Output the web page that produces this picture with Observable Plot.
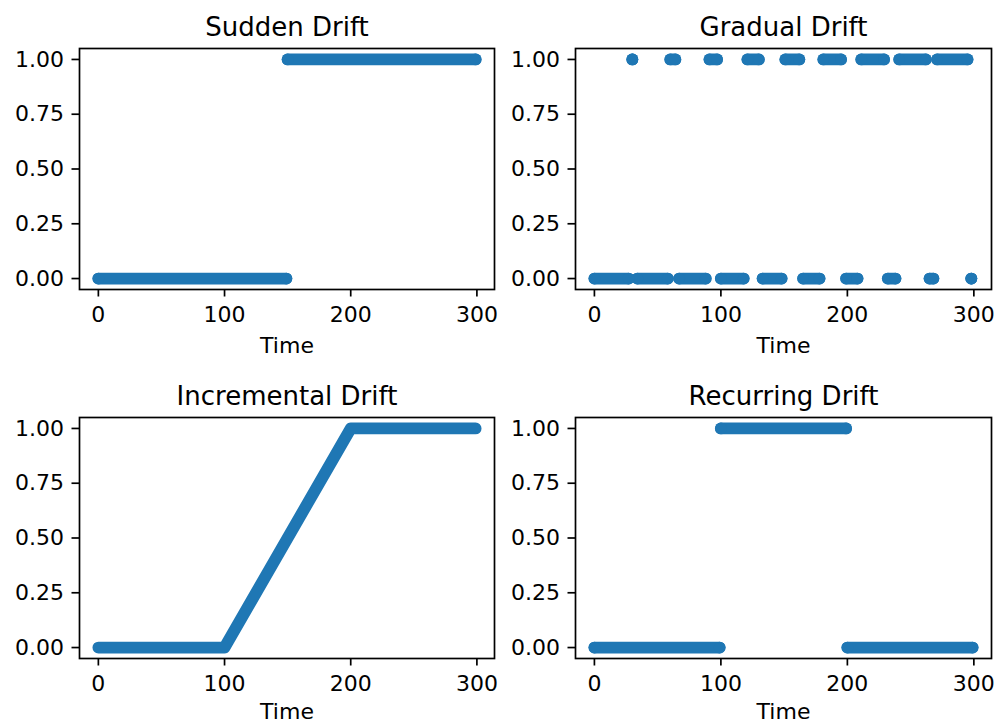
<!DOCTYPE html>
<html>
<head>
<meta charset="utf-8">
<script src="https://cdn.jsdelivr.net/npm/d3@7"></script>
<script src="https://cdn.jsdelivr.net/npm/@observablehq/plot@0.6"></script>
<style>
  html, body { margin: 0; padding: 0; background: #fff; }
  #fig { position: relative; width: 1008px; height: 723px; background: #fff; overflow: hidden; }
  #fig > div { position: absolute; }
</style>
</head>
<body>
<div id="fig"></div>
<script>
// ---- data ----
const timeTicks = [0, 100, 200, 300];
const valueTicks = [0, 0.25, 0.5, 0.75, 1];
const titles = ["Sudden Drift", "Gradual Drift", "Incremental Drift", "Recurring Drift"];
const xLabel = "Time";

// runs of consecutive time points sharing one value: start, end, value
const suddenStart = [0, 150];
const suddenEnd   = [149, 299];
const suddenValue = [0, 1];

const gradualStart = [0, 30, 34, 60, 67, 91, 100, 121, 133, 151, 165, 181, 199, 211, 232, 241, 265, 271, 298];
const gradualEnd   = [27, 30, 58, 64, 88, 97, 118, 130, 148, 162, 178, 195, 208, 229, 238, 262, 268, 295, 298];
const gradualValue = [0, 1, 0, 1, 0, 1, 0, 1, 0, 1, 0, 1, 0, 1, 0, 1, 0, 1, 0];

// incremental drift breakpoints (time, value)
const incTime  = [0, 100, 200, 299];
const incValue = [0, 0, 1, 1];

const recurStart = [0, 100, 200];
const recurEnd   = [99, 199, 299];
const recurValue = [0, 1, 0];

const color = "#1f77b4";
const R = 5.9;

function runs(starts, ends, values) {
  return starts.map((s, i) => ({x1: s, x2: ends[i], y: values[i]}));
}

function panel(title, marks, box) {
  return Plot.plot({
    width: box.w, height: box.h,
    marginLeft: box.ml, marginRight: box.mr, marginTop: box.mt, marginBottom: box.mb,
    x: {domain: [-14.95, 313.95]},
    y: {domain: [-0.05, 1.05]},
    style: {fontFamily: "'DejaVu Sans', sans-serif", color: "black", background: "white", overflow: "visible"},
    marks: [
      ...marks,
      Plot.axisX({ticks: timeTicks, tickSize: 7.5, tickPadding: 9.5, fontSize: 22, strokeWidth: 1.7, label: null}),
      Plot.axisY({ticks: valueTicks, tickFormat: d3.format(".2f"), tickSize: 7.5, tickPadding: 8, fontSize: 22, strokeWidth: 1.7, label: null}),
      Plot.frame({stroke: "black", strokeWidth: 1.7}),
      Plot.text([title], {text: d => d, frameAnchor: "top", dy: -13, lineAnchor: "bottom", fontSize: 26, fill: "black"}),
      Plot.text([xLabel], {text: d => d, frameAnchor: "bottom", dy: box.ly, lineAnchor: "bottom", fontSize: 22, fill: "black"})
    ]
  });
}

function runMarks(data) {
  return [
    Plot.link(data, {x1: "x1", x2: "x2", y1: "y", y2: "y", stroke: color, strokeWidth: 2 * R, strokeLinecap: "round"}),
    Plot.dot(data, {x: "x1", y: "y", r: R, fill: color}),
    Plot.dot(data, {x: "x2", y: "y", r: R, fill: color})
  ];
}

const incData = incTime.map((t, i) => ({t, v: incValue[i]}));
const incMarks = [
  Plot.line(incData, {x: "t", y: "v", stroke: color, strokeWidth: 2 * R, strokeLinecap: "round", strokeLinejoin: "round"})
];

const boxes = [
  {left: 0,   top: 0,   w: 504, h: 361, ml: 79, mr: 10, mt: 48, mb: 72, ly: 63},
  {left: 504, top: 0,   w: 504, h: 361, ml: 71, mr: 17, mt: 48, mb: 72, ly: 63},
  {left: 0,   top: 361, w: 504, h: 362, ml: 79, mr: 10, mt: 56, mb: 65, ly: 60},
  {left: 504, top: 361, w: 504, h: 362, ml: 71, mr: 17, mt: 56, mb: 65, ly: 60}
];

const markSets = [
  runMarks(runs(suddenStart, suddenEnd, suddenValue)),
  runMarks(runs(gradualStart, gradualEnd, gradualValue)),
  incMarks,
  runMarks(runs(recurStart, recurEnd, recurValue))
];

const fig = document.getElementById("fig");
boxes.forEach((b, i) => {
  const d = document.createElement("div");
  d.style.left = b.left + "px";
  d.style.top = b.top + "px";
  d.appendChild(panel(titles[i], markSets[i], b));
  fig.appendChild(d);
});
</script>
</body>
</html>
